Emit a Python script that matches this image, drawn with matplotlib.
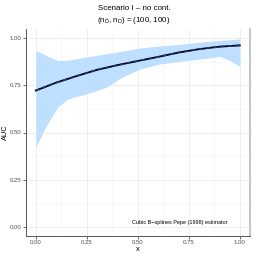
import matplotlib
matplotlib.use("Agg")
import matplotlib.pyplot as plt
import numpy as np

plt.rcParams["font.family"] = ["Liberation Sans", "DejaVu Sans"]
plt.rcParams["mathtext.fontset"] = "custom"
plt.rcParams["mathtext.rm"] = "Liberation Sans"
plt.rcParams["mathtext.it"] = "Liberation Sans:italic"

# mean AUC curve and estimate
x_curve = [0.0, 0.1, 0.2, 0.3, 0.4, 0.5, 0.6, 0.7, 0.8, 0.9, 1.0]
auc_mean = [0.723, 0.765, 0.800, 0.833, 0.858, 0.880, 0.902, 0.925, 0.943, 0.956, 0.963]

# pointwise band
x_band = [0.0, 0.05, 0.107, 0.157, 0.213, 0.287, 0.345, 0.413, 0.51, 0.608, 0.706, 0.804, 0.902, 0.95, 1.0]
band_upper = [0.936, 0.91, 0.883, 0.883, 0.895, 0.908, 0.918, 0.93, 0.949, 0.96, 0.968, 0.98, 0.99, 0.993, 0.997]
band_lower = [0.422, 0.532, 0.635, 0.678, 0.695, 0.718, 0.74, 0.789, 0.837, 0.864, 0.878, 0.89, 0.904, 0.883, 0.851]

ticks = [0.0, 0.25, 0.5, 0.75, 1.0]
tick_labels = ["0.00", "0.25", "0.50", "0.75", "1.00"]

fig = plt.figure(figsize=(2.54, 2.54), dpi=100)
ax = fig.add_axes([26/254, 18/254, 224/254, 207/254])

ax.fill_between(x_band, band_lower, band_upper, color="#bfdfff", lw=0)
ax.plot(x_curve, auc_mean, color="black", lw=1.3)
ax.plot(x_curve, auc_mean, color="#1c3a8c", lw=1.2, ls=(0, (2.2, 2.2)))

ax.set_xlim(-0.048, 1.05)
ax.set_ylim(-0.05, 1.05)
ax.set_xticks(ticks)
ax.set_xticklabels(tick_labels)
ax.set_yticks(ticks)
ax.set_yticklabels(tick_labels)
ax.set_xticks([0.125, 0.375, 0.625, 0.875], minor=True)
ax.set_yticks([0.125, 0.375, 0.625, 0.875], minor=True)
ax.grid(True, which="major", color="#ebebeb", lw=0.6)
ax.grid(True, which="minor", color="#f3f3f3", lw=0.4)
ax.set_axisbelow(True)
ax.tick_params(which="major", labelsize=4.3, length=2, width=0.5, color="#333333",
               labelcolor="#4d4d4d", pad=1.2)
ax.tick_params(which="minor", length=0)

for s in ["left", "bottom"]:
    ax.spines[s].set_color("#555555")
    ax.spines[s].set_linewidth(0.7)
ax.spines["top"].set_visible(False)
ax.spines["right"].set_color("#bbbbbb")
ax.spines["right"].set_linewidth(1.2)

ax.set_xlabel("x", fontsize=5.3)
ax.set_ylabel("AUC", fontsize=5.3)
ax.xaxis.set_label_coords(0.5, -10/207, transform=ax.transAxes)
ax.yaxis.set_label_coords(-17/224, 0.5, transform=ax.transAxes)

ax.text(0.705, 0.02, "Cubic B\u2212splines Pepe (1998) estimator", fontsize=4.0,
        ha="center", va="center")

fig.text(134/254, 1 - 8/254, "Scenario I \u2013 no cont.", fontsize=5.7, ha="center", va="center")
fig.text(134/254, 1 - 20/254, r"($\mathrm{n}_{\bar{\mathrm{D}}}$, $\mathrm{n}_{\mathrm{D}}$) = (100, 100)",
         fontsize=5.7, ha="center", va="center")

fig.savefig("out.png", dpi=100)
